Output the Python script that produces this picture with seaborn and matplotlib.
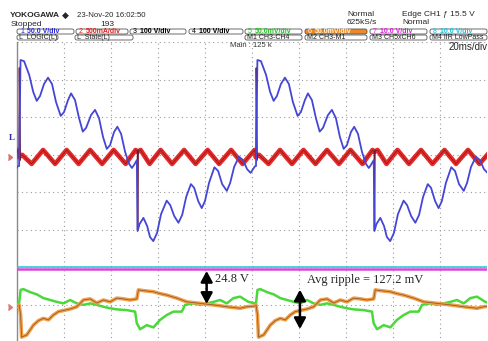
import numpy as np
import matplotlib
matplotlib.use("Agg")
import matplotlib.pyplot as plt
import seaborn as sns
from matplotlib.patches import FancyArrowPatch, FancyBboxPatch

W, H = 488, 341

# one acquisition cycle per channel: time (ms) from the cycle start, level in screen divisions
BLUE_T = [0.0, 0.6, 2.1, 4.3, 6.0, 7.5, 8.9, 10.6, 12.3, 14.0, 15.7, 17.7, 19.1, 20.8, 22.1,
          23.8, 25.5, 27.1, 28.5, 30.6, 32.3, 34.0, 35.7, 37.3, 38.7, 40.4, 41.8, 43.4, 45.1,
          46.8, 48.0, 48.9, 50.1, 50.4, 51.3, 52.9, 54.5, 55.7, 57.1, 58.7, 60.4, 62.8, 64.3,
          66.0, 67.8, 69.4, 71.1, 73.1, 74.5, 76.2, 77.7, 79.1, 80.8, 83.1, 84.7, 86.4, 88.4,
          89.8, 91.5, 93.6, 95.3, 97.0, 98.5, 100.4]
BLUE_Y = [0.69, 3.52, 3.49, 3.12, 2.67, 2.43, 2.56, 2.88, 3.05, 2.88, 2.40, 2.03, 2.13, 2.45, 2.63,
          2.45, 1.97, 1.61, 1.71, 2.05, 2.19, 1.97, 1.47, 1.15, 1.25, 1.60, 1.74, 1.55, 1.07,
          0.75, 0.64, 0.72, 0.85, -1.04, -0.85, -0.69, -0.91, -1.20, -1.31, -1.09, -0.59, -0.23, -0.35,
          -0.64, -0.82, -0.61, -0.13, 0.21, 0.11, -0.24, -0.43, -0.24, 0.24, 0.66, 0.56, 0.21, 0.03,
          0.24, 0.67, 0.94, 0.85, 0.61, 0.51, 0.69]

RED_T = [0.0, 1.28, 5.32, 10.21, 15.32, 20.21, 25.32, 30.21, 35.32, 40.21, 45.32,
         49.57, 50.42, 51.70, 55.53, 60.21, 65.10, 70.21, 75.10, 80.21, 85.10,
         90.21, 95.10, 100.2, 100.7]
RED_Y = [0.93, 0.99, 0.75, 1.12, 0.75, 1.12, 0.75, 1.12, 0.75, 1.12, 0.75,
         1.12, 1.07, 1.12, 0.75, 1.12, 0.75, 1.12, 0.75, 1.12, 0.75,
         1.12, 0.75, 1.12, 0.93]
# switching spikes on the current channel at each edge
RED_SPIKES = [([0.0, 0.13, 0.51], [0.93, 3.31, 0.85]),
              ([50.34, 50.42, 50.63], [1.07, -1.01, 1.12])]

ORANGE_T = [0.0, 0.64, 1.06, 3.28, 6.08, 8.21, 10.34, 12.47, 14.59, 16.72, 19.57, 21.70, 24.55,
            27.36, 30.21, 33.06, 35.87, 38.72, 41.57, 44.38, 47.23, 50.08, 50.76, 52.89, 57.15,
            60.00, 62.85, 67.10, 71.36, 77.02, 82.68, 88.38, 94.04, 96.89, 100.42]
ORANGE_Y = [-3.01, -3.28, -3.87, -3.81, -3.55, -3.43, -3.37, -3.41, -3.28, -3.19, -3.15, -3.12, -3.06,
            -2.88, -2.85, -2.96, -2.88, -2.93, -2.83, -2.85, -2.88, -2.85, -2.61, -2.63, -2.66,
            -2.71, -2.75, -2.83, -2.93, -2.97, -3.01, -3.06, -3.10, -3.06, -3.04]

GREEN_T = [0.0, 0.64, 1.83, 4.68, 7.53, 10.34, 13.19, 16.04, 18.85, 21.70, 24.55, 27.36, 30.21,
           33.06, 35.87, 38.72, 41.57, 45.83, 49.36, 50.08, 51.49, 54.34, 57.15, 60.00, 62.85,
           65.66, 69.23, 70.63, 74.16, 77.02, 79.87, 82.68, 85.53, 88.38, 91.19, 94.04, 97.57, 100.42]
GREEN_Y = [-2.97, -2.61, -2.59, -2.67, -2.73, -2.83, -2.88, -2.93, -2.97, -2.88, -2.97, -3.01, -2.97,
           -3.01, -3.06, -3.10, -3.13, -3.15, -3.19, -3.50, -3.66, -3.55, -3.61, -3.41, -3.28,
           -3.19, -3.19, -3.01, -2.97, -3.01, -2.97, -2.93, -2.88, -2.97, -2.83, -2.79, -2.93, -2.97]

CYCLE_START_MS = [-100.0, 0.9, 101.7]
MAGENTA_LEVEL = -2.05
CYAN_LEVEL = -1.99

DC_ARROW = (80.7, -2.03, -3.06)
DC_LABEL = "24.8 V"
RIPPLE_ARROW = (120.4, -2.53, -3.73)
RIPPLE_LABEL = "Avg ripple = 127.2 mV"

CH_BOXES = [("1", "50.0 V/div", "#2a2ad0", None), ("2", "500mA/div", "#e02020", None),
            ("3", "100 V/div", "black", None), ("4", "100 V/div", "black", None),
            ("5", "50.0mV/div", "#22c022", None), ("6", "50.0mV/div", "#fff4e0", "#f08a20"),
            ("7", "10.0 V/div", "#e020e0", None), ("8", "10.0 V/div", "#20c0e0", None)]
CH_X = [(17, 74), (76, 128), (130, 186), (189, 243), (245, 302), (305, 367), (370, 427), (430, 487)]
MATH_BOXES = ["L  LOGIC(L)", "L  State(L)", "M1 CH3-CH4", "M2 CH3-M1", "M3 CH5xCH6", "M4 IIR LowPass"]
MATH_X = [(17, 58), (75, 133), (245, 302), (305, 367), (370, 427), (430, 487)]

sns.set_theme(style="white")
plt.rcParams["font.family"] = ["Liberation Sans", "DejaVu Sans"]

fig = plt.figure(figsize=(W / 100, H / 100), dpi=100)
fig.patch.set_facecolor("white")
ax = fig.add_axes([17 / W, (H - 342) / H, 470 / W, 300 / H])


def trace(t, y, color, lw, z):
    for s in CYCLE_START_MS:
        sns.lineplot(x=np.array(t) + s, y=y, sort=False, estimator=None, color=color,
                     lw=lw, ax=ax, zorder=z)


ax.axhline(CYAN_LEVEL, color="#30c8dc", lw=1.2, zorder=3)
ax.axhline(MAGENTA_LEVEL, color="#d848d8", lw=1.8, zorder=3)
trace(RED_T, RED_Y, "#e52a2a", 3.4, 4)
trace(RED_T, RED_Y, "#8a1818", 0.5, 4.5)
for st, sy in RED_SPIKES:
    trace(st, sy, "#6a1a3a", 1.0, 4.6)
trace(BLUE_T, BLUE_Y, "#4646d6", 1.3, 5)
trace(GREEN_T, GREEN_Y, "#4ad83a", 1.8, 4)
trace(ORANGE_T, ORANGE_Y, "#f0a048", 2.6, 4.2)
trace(ORANGE_T, ORANGE_Y, "#9a5a2a", 0.6, 4.3)

for x, y0, y1 in (DC_ARROW, RIPPLE_ARROW):
    ax.add_patch(FancyArrowPatch((x, y0), (x, y1), arrowstyle="<|-|>,head_length=0.65,head_width=0.35",
                                 mutation_scale=10, color="black", lw=1.8, zorder=8))
ax.text(DC_ARROW[0] + 3.6, -2.32, DC_LABEL, family="Liberation Serif", fontsize=9,
        ha="left", va="center", zorder=9)
ax.text(RIPPLE_ARROW[0] + 3.0, -2.35, RIPPLE_LABEL, family="Liberation Serif", fontsize=9,
        ha="left", va="center", zorder=9)

ax.set_xlim(0, 200)
ax.set_ylim(-4, 4)
ax.set_xticks(np.arange(0, 201, 20))
ax.set_yticks(np.arange(-4, 5, 1))
ax.set_xticklabels([])
ax.set_yticklabels([])
ax.tick_params(length=0)
ax.grid(True, color="#9a9a9a", lw=0.8, ls=(0, (1, 3)))
for side in ("top", "right", "bottom"):
    ax.spines[side].set_visible(False)
ax.spines["left"].set_color("#8a8a8a")
ax.spines["left"].set_linewidth(1.0)
ax.set_xlabel("")
ax.set_ylabel("")

# header overlay in pixel units
ov = fig.add_axes([0, 0, 1, 1])
ov.set_xlim(0, W)
ov.set_ylim(H, 0)
ov.axis("off")
ov.patch.set_alpha(0)

ov.text(10, 15.5, "YOKOGAWA", fontsize=6, weight="bold", va="center")
ov.text(62, 15.5, "\u25c6", fontsize=6.5, va="center", family="DejaVu Sans")
ov.text(77, 15.5, "23-Nov-20 16:02:50", fontsize=5.6, va="center")
ov.text(11, 24, "Stopped", fontsize=6, va="center")
ov.text(100, 24, "193", fontsize=6, va="center")
ov.text(347, 14, "Normal", fontsize=6, va="center")
ov.text(347, 22.5, "625kS/s", fontsize=6, va="center")
ov.text(402, 14, "Edge CH1 \u0192 15.5 V", fontsize=6, va="center")
ov.text(402, 22.5, "Normal", fontsize=6, va="center")

for (num, lab, col, fill), (x0, x1) in zip(CH_BOXES, CH_X):
    ov.add_patch(FancyBboxPatch((x0, 29), x1 - x0, 5, boxstyle="round,pad=0,rounding_size=2",
                                fc=fill if fill else "white", ec="#555555", lw=0.6))
    ov.text(x0 + 3, 31.5, num, fontsize=5, va="center", color=col if fill is None else "white")
    ov.text(x0 + 10, 31.5, lab, fontsize=5, va="center", weight="bold", color=col)

for lab, (x0, x1) in zip(MATH_BOXES, MATH_X):
    ov.add_patch(FancyBboxPatch((x0, 35), x1 - x0, 5, boxstyle="round,pad=0,rounding_size=2",
                                fc="white", ec="#555555", lw=0.6))
    ov.text(x0 + 2, 37.5, lab, fontsize=5, va="center", color="#222222")

ov.text(230, 45.5, "Main : 125 k", fontsize=5.5, va="center", color="#333333")
ov.text(488, 47, "20ms/div", fontsize=7, va="center", ha="right")

ov.text(9, 138, "L", fontsize=6.5, weight="bold", color="#2a2aa0", va="center", family="Liberation Serif")
ov.plot([12], [157], marker=5, ms=4, color="#e07070")
ov.plot([12], [307], marker=5, ms=4, color="#e07878")

fig.savefig("out.png", dpi=100)
